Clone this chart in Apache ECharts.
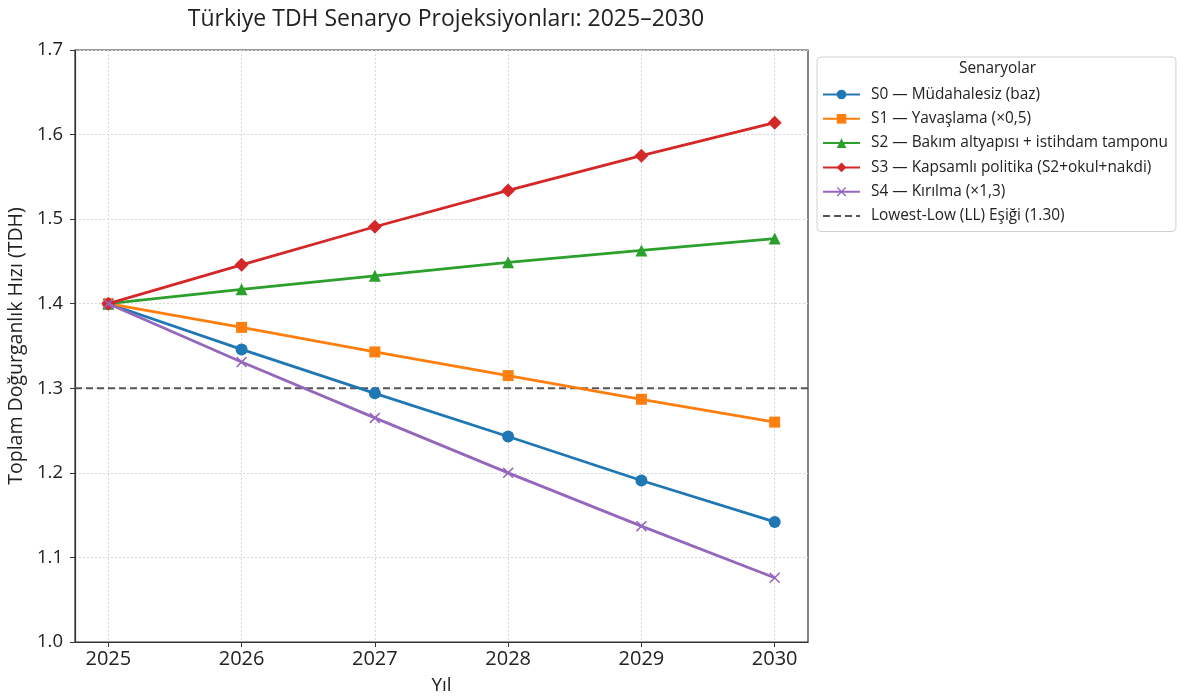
<!DOCTYPE html>
<html>
<head>
<meta charset="utf-8">
<script src="https://cdn.jsdelivr.net/npm/echarts@6/dist/echarts.min.js"></script>
<style>
  html, body { margin: 0; padding: 0; background: #fff; }
  #chart { width: 1186px; height: 697px; }
</style>
</head>
<body>
<div id="chart"></div>
<script>
// years on the x axis
var years = [2025, 2026, 2027, 2028, 2029, 2030];
var yTicks = [1.0, 1.1, 1.2, 1.3, 1.4, 1.5, 1.6, 1.7];

// TDH projections per scenario
var s0 = [1.400, 1.346, 1.294, 1.243, 1.191, 1.142];
var s1 = [1.400, 1.372, 1.343, 1.315, 1.287, 1.260];
var s2 = [1.400, 1.417, 1.433, 1.449, 1.463, 1.477];
var s3 = [1.400, 1.446, 1.491, 1.534, 1.575, 1.614];
var s4 = [1.400, 1.331, 1.265, 1.200, 1.137, 1.076];
var llThreshold = 1.30;

var names = [
  'S0 — Müdahalesiz (baz)',
  'S1 — Yavaşlama (×0,5)',
  'S2 — Bakım altyapısı + istihdam tamponu',
  'S3 — Kapsamlı politika (S2+okul+nakdi)',
  'S4 — Kırılma (×1,3)',
  'Lowest-Low (LL) Eşiği (1.30)'
];
var colors = ['#1f77b4', '#ff7f0e', '#2ca02c', '#d62728', '#9467bd'];
var symbols = ['circle', 'rect', 'triangle', 'diamond',
  'path://M0,1L1,0L5,4L9,0L10,1L6,5L10,9L9,10L5,6L1,10L0,9L4,5Z'];
var symbolSizes = [12, 11, 12, 14, 11];

var font = '"Open Sans", Roboto, sans-serif';
var xMin = 2024.75, xMax = 2030.25;

function pairs(vals) {
  return years.map(function(y, i) { return [y, vals[i]]; });
}

var series = [s0, s1, s2, s3, s4].map(function(vals, i) {
  return {
    name: names[i],
    type: 'line',
    data: pairs(vals),
    symbol: symbols[i],
    symbolSize: symbolSizes[i],
    showAllSymbol: true,
    color: colors[i],
    lineStyle: { width: 2.8, color: colors[i] },
    itemStyle: { color: colors[i] },
    z: 3 + i
  };
});

series.push({
  name: names[5],
  type: 'line',
  data: [[xMin, llThreshold], [xMax, llThreshold]],
  symbol: 'none',
  color: '#555',
  lineStyle: { width: 2, type: [7, 4], color: '#555' },
  z: 2
});

var legendData = names.map(function(n, i) {
  if (i === 5) return { name: n, itemStyle: { opacity: 0 } };
  return n;
});

var chart = echarts.init(document.getElementById('chart'), null, { renderer: 'canvas' });

var option = {
  animation: false,
  textStyle: { fontFamily: font },
  title: {
    text: 'Türkiye TDH Senaryo Projeksiyonları: 2025–2030',
    left: 441,
    textAlign: 'center',
    top: 3,
    textStyle: { fontFamily: font, fontSize: 23, fontWeight: 'normal', color: '#222' }
  },
  grid: {
    left: 75, right: 378, top: 50, bottom: 55,
    outerBoundsMode: 'none',
    containLabel: false,
    show: true, borderColor: '#333', borderWidth: 1.2, backgroundColor: 'transparent'
  },
  legend: {
    orient: 'vertical',
    left: 817, top: 57,
    padding: [29, 8, 7, 5],
    itemGap: 7.3,
    itemWidth: 37, itemHeight: 12,
    borderColor: '#d0d0d0', borderWidth: 1, borderRadius: 4,
    data: legendData,
    textStyle: { fontFamily: font, fontSize: 15.4, lineHeight: 17, color: '#222', padding: [0, 0, 0, 6] }
  },
  graphic: [{
    type: 'text',
    left: 959, top: 61,
    style: { text: 'Senaryolar', fontFamily: font, fontSize: 15.4, fill: '#222' }
  }],
  xAxis: {
    type: 'value',
    min: xMin, max: xMax,
    name: 'Yıl',
    nameLocation: 'middle',
    nameGap: 34,
    nameTextStyle: { fontFamily: font, fontSize: 19, color: '#222' },
    axisLine: { show: true, lineStyle: { color: '#333', width: 1.2 } },
    axisTick: { show: true, length: 5, customValues: years, lineStyle: { color: '#333' } },
    axisLabel: {
      customValues: years,
      fontFamily: font, fontSize: 20, color: '#222', margin: 7,
      formatter: function(v) { return String(Math.round(v)); }
    },
    splitLine: { show: true, customValues: years, lineStyle: { color: '#d8d8d8', type: [2, 2] } }
  },
  yAxis: {
    type: 'value',
    min: 1.0, max: 1.7, interval: 0.1,
    name: 'Toplam Doğurganlık Hızı (TDH)',
    nameLocation: 'middle',
    nameGap: 46,
    nameTextStyle: { fontFamily: font, fontSize: 19.5, color: '#222' },
    axisLine: { show: true, lineStyle: { color: '#333', width: 1.2 } },
    axisTick: { show: true, length: 5, lineStyle: { color: '#333' } },
    axisLabel: {
      fontFamily: font, fontSize: 18.5, color: '#222', margin: 12,
      formatter: function(v) { return v.toFixed(1); }
    },
    splitLine: { show: true, lineStyle: { color: '#d8d8d8', type: [2, 2] } }
  },
  series: series
};

chart.setOption(option);
</script>
</body>
</html>
